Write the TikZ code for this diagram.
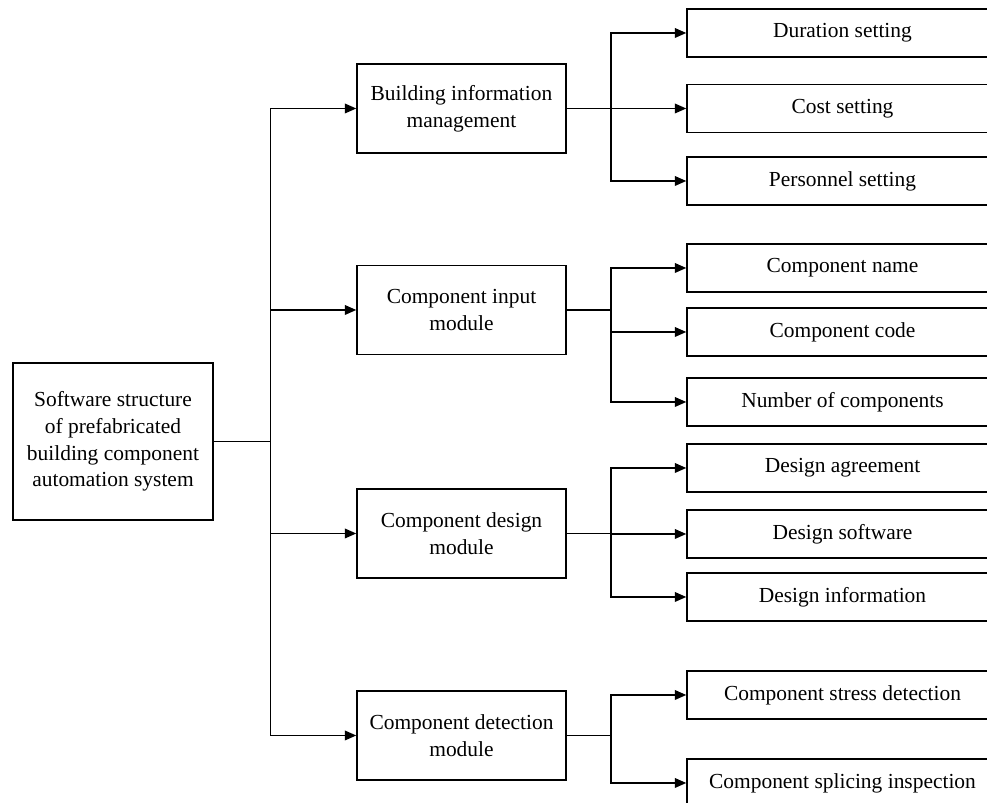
\documentclass[tikz,border=0pt]{standalone}
\usepackage{fontspec}
\setmainfont{Liberation Serif}
\usepackage{tikz}
\usetikzlibrary{positioning,arrows.meta}

\begin{document}
\begin{tikzpicture}[
    box/.style={draw, line width=0.85pt, minimum width=4.18cm, minimum height=1.78cm, font=\fontsize{12.2}{15.2}\selectfont, align=center, inner sep=0pt},
    leaf/.style={box, minimum width=6.22cm, minimum height=0.96cm},
    arrow/.style={-{Triangle[length=6.5pt,width=5.5pt]}, line width=0.85pt},
    link/.style={line width=0.85pt}
  ]
  \useasboundingbox (0,0) rectangle (19.74,16.06);
  \clip (0,0) rectangle (19.74,16.06);

  % Root
  \node[box, minimum width=4cm, minimum height=3.14cm] (root) at (2.26,7.23)
    {Software structure\\ of prefabricated\\ building component\\ automation system};

  % Modules
  \node[box] (bim) at (9.23,13.89) {Building information\\ management};
  \node[box] (input) at (9.23,9.86) {Component input\\ module};
  \node[box] (design) at (9.23,5.39) {Component design\\ module};
  \node[box] (detect) at (9.23,1.35) {Component detection\\ module};

  % Leaves
  \node[leaf] (dur) at (16.85,15.40) {Duration setting};
  \node[leaf] (cost) at (16.85,13.89) {Cost setting};
  \node[leaf] (staff) at (16.85,12.44) {Personnel setting};
  \node[leaf] (cname) at (16.85,10.70) {Component name};
  \node[leaf] (ccode) at (16.85,9.42) {Component code};
  \node[leaf] (cnum) at (16.85,8.02) {Number of components};
  \node[leaf] (dagree) at (16.85,6.70) {Design agreement};
  \node[leaf] (dsoft) at (16.85,5.38) {Design software};
  \node[leaf] (dinfo) at (16.85,4.12) {Design information};
  \node[leaf] (stress) at (16.85,2.16) {Component stress detection};
  \node[leaf] (splice) at (16.85,0.40) {Component splicing inspection};

  % Junctions
  \coordinate (jroot) at (5.41,7.23);
  \coordinate (xbr) at (12.22,0);
  \coordinate (jbim) at (bim.east -| xbr);
  \coordinate (jinput) at (input.east -| xbr);
  \coordinate (jdesign) at (design.east -| xbr);
  \coordinate (jdetect) at (detect.east -| xbr);

  % Root to modules
  \draw[link] (root.east) -- (jroot);
  \draw[arrow] (jroot) |- (bim.west);
  \draw[arrow] (jroot) |- (input.west);
  \draw[arrow] (jroot) |- (design.west);
  \draw[arrow] (jroot) |- (detect.west);

  % Modules to leaves
  \draw[link] (bim.east) -- (jbim);
  \draw[arrow] (jbim) |- (dur.west);
  \draw[arrow] (jbim) |- (cost.west);
  \draw[arrow] (jbim) |- (staff.west);

  \draw[link] (input.east) -- (jinput);
  \draw[arrow] (jinput) |- (cname.west);
  \draw[arrow] (jinput) |- (ccode.west);
  \draw[arrow] (jinput) |- (cnum.west);

  \draw[link] (design.east) -- (jdesign);
  \draw[arrow] (jdesign) |- (dagree.west);
  \draw[arrow] (jdesign) |- (dsoft.west);
  \draw[arrow] (jdesign) |- (dinfo.west);

  \draw[link] (detect.east) -- (jdetect);
  \draw[arrow] (jdetect) |- (stress.west);
  \draw[arrow] (jdetect) |- (splice.west);
\end{tikzpicture}
\end{document}
